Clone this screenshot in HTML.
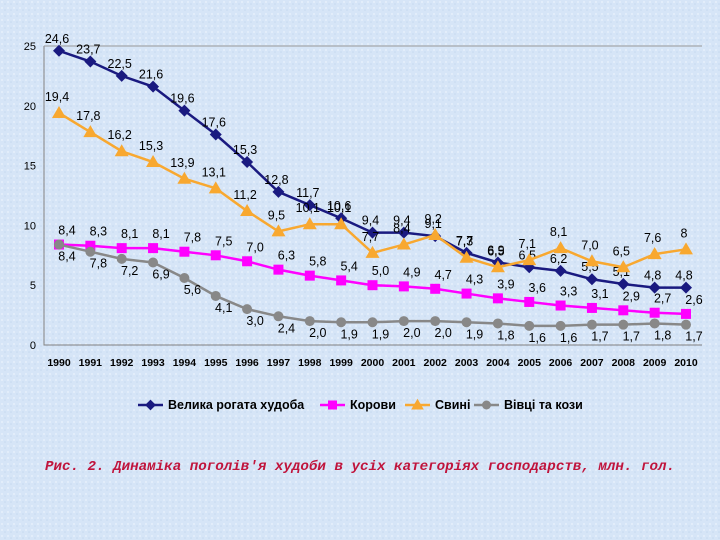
<!DOCTYPE html>
<html><head><meta charset="utf-8"><style>
body{margin:0;width:720px;height:540px;overflow:hidden;background:#d3e3f6;font-family:"Liberation Sans",sans-serif}
svg{display:block}
</style></head><body>
<svg width="720" height="540">
<defs><pattern id="tex" width="6" height="6" patternUnits="userSpaceOnUse"><rect width="6" height="6" fill="#d6e5f7"/><circle cx="2" cy="2" r="1" fill="#e6f0fb"/><circle cx="5" cy="4" r="0.8" fill="#c6d9f0"/></pattern></defs>
<rect width="720" height="540" fill="url(#tex)"/>
<g id="axes"></g><g id="plot"></g><g id="legend"></g>
<text x="360" y="470" text-anchor="middle" font-size="14.2" font-weight="bold" font-style="italic" fill="#c0143c" font-family="'Liberation Mono',monospace">Рис. 2. Динаміка поголів'я худоби в усіх категоріях господарств, млн. гол.</text>
</svg>
<script>
const years=[1990,1991,1992,1993,1994,1995,1996,1997,1998,1999,2000,2001,2002,2003,2004,2005,2006,2007,2008,2009,2010];
const cattle=[24.6,23.7,22.5,21.6,19.6,17.6,15.3,12.8,11.7,10.6,9.4,9.4,9.1,7.7,6.9,6.5,6.2,5.5,5.1,4.8,4.8];
const cows=[8.4,8.3,8.1,8.1,7.8,7.5,7.0,6.3,5.8,5.4,5.0,4.9,4.7,4.3,3.9,3.6,3.3,3.1,2.9,2.7,2.6];
const pigs=[19.4,17.8,16.2,15.3,13.9,13.1,11.2,9.5,10.1,10.1,7.7,8.4,9.2,7.3,6.5,7.1,8.1,7.0,6.5,7.6,8.0];
const sheep=[8.4,7.8,7.2,6.9,5.6,4.1,3.0,2.4,2.0,1.9,1.9,2.0,2.0,1.9,1.8,1.6,1.6,1.7,1.7,1.8,1.7];
const yTicks=[0,5,10,15,20,25];
const names=["Велика рогата худоба","Корови","Свині","Вівці та кози"];
const NS="http://www.w3.org/2000/svg";
const X=i=>59+i*31.35, Y=v=>345-v*11.96;
function mk(p,t,a){const e=document.createElementNS(NS,t);for(const k in a)e.setAttribute(k,a[k]);p.appendChild(e);return e;}
const ax=document.getElementById('axes'),pl=document.getElementById('plot'),lg=document.getElementById('legend');
let e=mk(ax,'path',{d:'M44 46V345H702',stroke:'#808080',fill:'none'});

e=mk(ax,'line',{x1:44,y1:46,x2:702,y2:46,stroke:'#999'});

yTicks.forEach(v=>{const t=mk(ax,'text',{x:36,y:Y(v)+4,'text-anchor':'end','font-size':11});t.textContent=v;
});
years.forEach((y,i)=>{const t=mk(ax,'text',{x:X(i),y:366,'text-anchor':'middle','font-size':10.5,'font-weight':'bold'});t.textContent=y;
});
const series=[[cattle,'#1a1a80','diamond',-10,-8],[cows,'#ff00ff','square',0,-10],[pigs,'#f8a830','tri',-10,-12],[sheep,'#888','circle',0,16]];
function marker(g,type,x,y,c,s){s=s||1;
 if(type=='diamond')return mk(g,'path',{d:`M${x} ${y-6*s}L${x+6*s} ${y}L${x} ${y+6*s}L${x-6*s} ${y}Z`,fill:c});
 if(type=='square')return mk(g,'rect',{x:x-5*s,y:y-5*s,width:10*s,height:10*s,fill:c});
 if(type=='tri')return mk(g,'path',{d:`M${x} ${y-7*s}L${x+7*s} ${y+5*s}L${x-7*s} ${y+5*s}Z`,fill:c});
 return mk(g,'circle',{cx:x,cy:y,r:5*s,fill:c});}
series.forEach(([d,c,m,dx,dy],si)=>{
 const g=mk(pl,'g',{});
 const ln=mk(g,'polyline',{points:d.map((v,i)=>X(i)+','+Y(v)).join(' '),fill:'none',stroke:c,'stroke-width':2.5});
 
 d.forEach((v,i)=>{const p=marker(g,m,X(i),Y(v),c);
  const t=mk(g,'text',{x:X(i)+dx+8,y:Y(v)+dy,'text-anchor':'middle','font-size':12.5});t.textContent=v.toFixed(1).replace('.',',').replace(/^8,0$/,'8');
  });
});
const lx=[138,320,405,474];
series.forEach(([d,c,m],i)=>{
 const g=mk(lg,'g',{});
 mk(g,'line',{x1:lx[i],y1:405,x2:lx[i]+25,y2:405,stroke:c,'stroke-width':2.5});
 marker(g,m,lx[i]+12.5,405,c,0.9);
 const t=mk(g,'text',{x:lx[i]+30,y:409,'font-size':12.5,'font-weight':'bold'});t.textContent=names[i];
});
</script>
</body></html>
